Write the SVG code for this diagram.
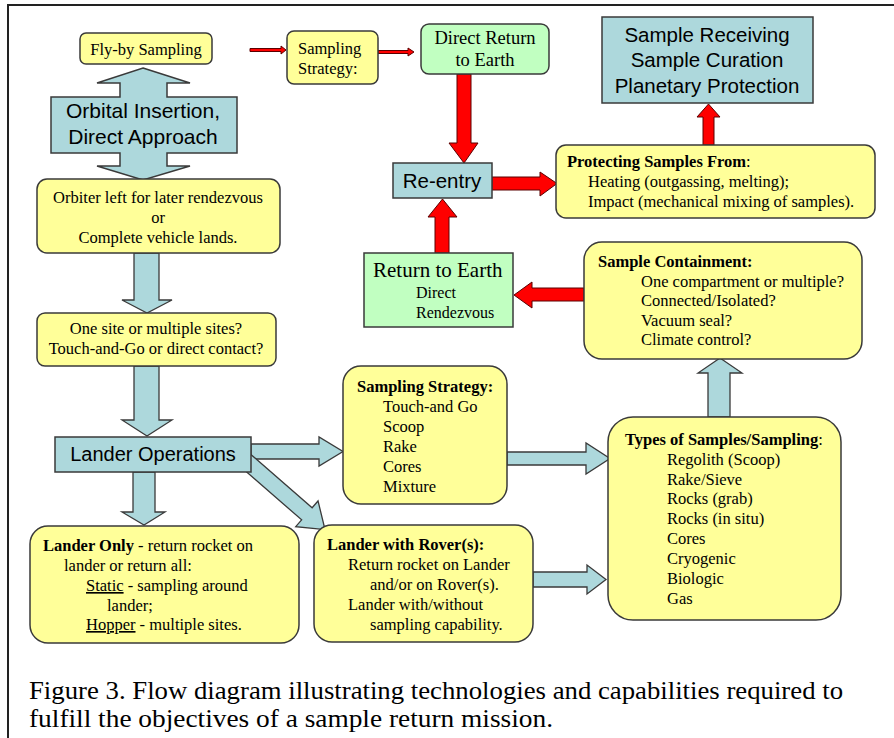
<svg xmlns="http://www.w3.org/2000/svg" width="894" height="738" viewBox="0 0 894 738">
<style>
.y{fill:#FFFF99;stroke:#3a3a3a;stroke-width:1.5}
.b{fill:#ADD8DC;stroke:#3a3a3a;stroke-width:1.5}
.g{fill:#C1FFC1;stroke:#3a3a3a;stroke-width:1.5}
.ba{fill:#ADD8DC;stroke:#3a3a3a;stroke-width:1.3}
.ra{fill:#FF0000;stroke:#5a0000;stroke-width:1}
.t{font-family:"Liberation Serif","Times New Roman",serif;font-size:16.5px;fill:#000}
.s{font-family:"Liberation Sans",Arial,sans-serif;font-size:20.5px;fill:#000}
.c{text-anchor:middle}
.bd{font-weight:bold}
.u{text-decoration:underline}
</style>
<rect x="0" y="0" width="894" height="738" fill="#fff"/>
<path d="M8,738 V5 H894" fill="none" stroke="#222" stroke-width="2"/>

<g id="connectors">
  <polygon class="ra" points="250,48.5 281,48.5 281,46 286,50 281,54 281,51.5 250,51.5"/>
  <polygon class="ra" points="378,50.5 408,50.5 408,48 414,52 408,56 408,53.5 378,53.5"/>
  <polygon class="ba" points="134,253 159,253 159,300 172,300 147,313 122,300 134,300"/>
  <polygon class="ba" points="134,366 159,366 159,420 172,420 147,436 122,420 134,420"/>
  <polygon class="ba" points="133,472 155,472 155,512 165,512 144,525 122,512 133,512"/>
  <polygon class="ba" points="251,444 319,444 319,437 343,451.5 319,466 319,459 251,459"/>
  <polygon class="ba" transform="translate(245,460) rotate(41)" points="0,-8 82,-8 82,-17 106,0 82,17 82,8 0,8"/>
  <polygon class="ba" points="507,452 586,452 586,443 610,458.5 586,474 586,465 507,465"/>
  <polygon class="ba" points="533,572 587,572 587,565 606,579.5 587,594 587,587 533,587"/>
  <polygon class="ba" points="708,417 708,373 698,373 720,358 742,373 730,373 730,417"/>
  <polygon class="ra" points="584,288 532,288 532,282 514,295 532,308 532,301 584,301"/>
  <polygon class="ra" points="435,253 435,217 428,217 442.5,199 457,217 449,217 449,253"/>
  <polygon class="ra" points="457,74 457,143 449,143 464,163 478,143 471,143 471,74"/>
  <polygon class="ra" points="492,177 540,177 540,172 557,183.5 540,196 540,190 492,190"/>
  <polygon class="ra" points="703,145 703,117 697,117 708.5,104 720,117 714,117 714,145"/>
</g>

<g id="flyby">
  <rect class="y" x="80" y="33" width="132" height="31" rx="6"/>
  <text class="t c" x="146" y="55">Fly-by Sampling</text>
</g>
<g id="sampling-top">
  <rect class="y" x="287" y="31" width="91" height="53" rx="7"/>
  <text class="t" x="298" y="54">Sampling</text>
  <text class="t" x="298" y="74">Strategy:</text>
</g>
<g id="direct-return">
  <rect class="g" x="421" y="24" width="128" height="50" rx="8"/>
  <text class="t c" x="485" y="44" style="font-size:18.5px">Direct Return</text>
  <text class="t c" x="485" y="66" style="font-size:18.5px">to Earth</text>
</g>
<g id="sample-receiving">
  <rect class="b" x="602" y="17" width="211" height="86"/>
  <text class="s c" x="707" y="42">Sample Receiving</text>
  <text class="s c" x="707" y="67">Sample Curation</text>
  <text class="s c" x="707" y="93">Planetary Protection</text>
</g>
<g id="orbital">
  <polygon class="b" points="143,68 190,83 167,83 167,97 237,97 237,153 167,153 167,166 190,166 143,180 97,166 120,166 120,153 51,153 51,97 120,97 120,83 97,83"/>
  <text class="s c" x="143" y="118" style="font-size:21px">Orbital Insertion,</text>
  <text class="s c" x="143" y="144" style="font-size:21px">Direct Approach</text>
</g>
<g id="reentry">
  <rect class="b" x="393" y="163" width="99" height="35"/>
  <text class="s c" x="442" y="188">Re-entry</text>
</g>
<g id="protecting">
  <rect class="y" x="556" y="145" width="319" height="73" rx="10"/>
  <text class="t" x="567" y="167"><tspan class="bd">Protecting Samples From</tspan>:</text>
  <text class="t" x="588" y="187">Heating (outgassing, melting);</text>
  <text class="t" x="588" y="207">Impact (mechanical mixing of samples).</text>
</g>
<g id="orbiter">
  <rect class="y" x="37" y="179" width="243" height="74" rx="10"/>
  <text class="t c" x="158" y="203">Orbiter left for later rendezvous</text>
  <text class="t c" x="158" y="223">or</text>
  <text class="t c" x="158" y="243">Complete vehicle lands.</text>
</g>
<g id="return-earth">
  <rect class="g" x="364" y="253" width="149" height="74"/>
  <text class="t" x="373" y="277" style="font-size:21px">Return to Earth</text>
  <text class="t" x="416" y="298" style="font-size:16px">Direct</text>
  <text class="t" x="416" y="318" style="font-size:16px">Rendezvous</text>
</g>
<g id="containment">
  <rect class="y" x="584" y="242" width="278" height="117" rx="18"/>
  <text class="t bd" x="598" y="267">Sample Containment:</text>
  <text class="t" x="641" y="287">One compartment or multiple?</text>
  <text class="t" x="641" y="306">Connected/Isolated?</text>
  <text class="t" x="641" y="326">Vacuum seal?</text>
  <text class="t" x="641" y="345">Climate control?</text>
</g>
<g id="one-site">
  <rect class="y" x="37" y="313" width="239" height="53" rx="8"/>
  <text class="t c" x="156" y="334">One site or multiple sites?</text>
  <text class="t c" x="156" y="354">Touch-and-Go or direct contact?</text>
</g>
<g id="sampling-strategy">
  <rect class="y" x="343" y="366" width="164" height="138" rx="18"/>
  <text class="t bd" x="357" y="392">Sampling Strategy:</text>
  <text class="t" x="383" y="412">Touch-and Go</text>
  <text class="t" x="383" y="432">Scoop</text>
  <text class="t" x="383" y="452">Rake</text>
  <text class="t" x="383" y="472">Cores</text>
  <text class="t" x="383" y="492">Mixture</text>
</g>
<g id="lander-ops">
  <rect class="b" x="55" y="437" width="196" height="35"/>
  <text class="s c" x="153" y="461" style="font-size:20px">Lander Operations</text>
</g>
<g id="types">
  <rect class="y" x="608" y="417" width="233" height="203" rx="25"/>
  <text class="t bd" x="625" y="445">Types of Samples/Sampling<tspan font-weight="normal">:</tspan></text>
  <text class="t" x="667" y="465">Regolith (Scoop)</text>
  <text class="t" x="667" y="485">Rake/Sieve</text>
  <text class="t" x="667" y="504">Rocks (grab)</text>
  <text class="t" x="667" y="524">Rocks (in situ)</text>
  <text class="t" x="667" y="544">Cores</text>
  <text class="t" x="667" y="564">Cryogenic</text>
  <text class="t" x="667" y="584">Biologic</text>
  <text class="t" x="667" y="604">Gas</text>
</g>
<g id="lander-only">
  <rect class="y" x="30" y="526" width="269" height="117" rx="18"/>
  <text class="t" x="43" y="551"><tspan class="bd">Lander Only</tspan> - return rocket on</text>
  <text class="t" x="64" y="571">lander or return all:</text>
  <text class="t" x="86" y="591"><tspan class="u">Static</tspan> - sampling around</text>
  <text class="t" x="107" y="611">lander;</text>
  <text class="t" x="86" y="630"><tspan class="u">Hopper</tspan> - multiple sites.</text>
</g>
<g id="lander-rover">
  <rect class="y" x="314" y="525" width="219" height="117" rx="18"/>
  <text class="t bd" x="327" y="550">Lander with Rover(s):</text>
  <text class="t" x="348" y="570">Return rocket on Lander</text>
  <text class="t" x="370" y="590">and/or on Rover(s).</text>
  <text class="t" x="348" y="610">Lander with/without</text>
  <text class="t" x="370" y="630">sampling capability.</text>
</g>
<g id="caption">
  <text class="t" x="29" y="699" style="font-size:25px" textLength="814" lengthAdjust="spacingAndGlyphs">Figure 3. Flow diagram illustrating technologies and capabilities required to</text>
  <text class="t" x="29" y="727" style="font-size:25px" textLength="524" lengthAdjust="spacingAndGlyphs">fulfill the objectives of a sample return mission.</text>
</g>
</svg>
